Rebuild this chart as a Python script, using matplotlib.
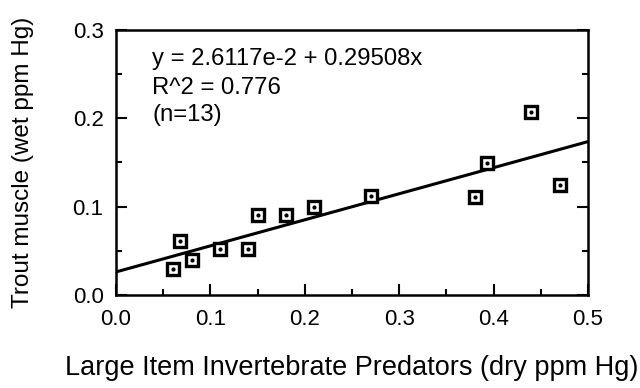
import matplotlib
matplotlib.use('Agg')
import matplotlib.pyplot as plt
from matplotlib.ticker import MultipleLocator

plt.rcParams['font.family'] = ['Liberation Sans', 'DejaVu Sans']

# invertebrate predators (dry ppm Hg) vs trout muscle (wet ppm Hg)
predators = [0.06, 0.068, 0.08, 0.11, 0.14, 0.15, 0.18, 0.21, 0.27, 0.38, 0.393, 0.44, 0.47]
trout = [0.030, 0.061, 0.040, 0.052, 0.052, 0.091, 0.091, 0.100, 0.112, 0.111, 0.150, 0.207, 0.124]
intercept = 2.6117e-2
slope = 0.29508
fit_x = [0.0, 0.5]
xticks = [0.0, 0.1, 0.2, 0.3, 0.4, 0.5]
yticks = [0.0, 0.1, 0.2, 0.3]
notes = ['y = 2.6117e-2 + 0.29508x', 'R^2 = 0.776', '(n=13)']

fig = plt.figure(figsize=(6.4, 3.88), dpi=100)
# axes box in pixels: x 116..588, y 30..295
ax = fig.add_axes([116/640, 1 - 295/388, 472/640, 265/388])

fit_y = [intercept + slope * v for v in fit_x]
ax.plot(fit_x, fit_y, color='black', lw=2.2)
ax.plot(predators, trout, 's', ms=8.5, mfc='white', mec='black', mew=2.4)
ax.plot(predators, trout, 'o', ms=2, color='black')

ax.set_xlim(0, 0.5)
ax.set_ylim(0, 0.3)
ax.set_xticks(xticks)
ax.set_yticks(yticks)
ax.set_xticklabels(['%.1f' % v for v in xticks])
ax.set_yticklabels(['%.1f' % v for v in yticks])
ax.xaxis.set_minor_locator(MultipleLocator(0.05))
ax.yaxis.set_minor_locator(MultipleLocator(0.05))
ax.tick_params(which='both', direction='in', top=False, right=True, labelsize=16, width=1.5)
ax.tick_params(axis='x', which='major', length=8, pad=10)
ax.tick_params(axis='y', which='major', length=8, pad=9)
ax.tick_params(which='minor', length=4.5)
for s in ax.spines.values():
    s.set_linewidth(1.8)

ax.set_xlabel('Large Item Invertebrate Predators (dry ppm Hg)', fontsize=19.5, va='baseline')
ax.xaxis.set_label_coords(0.5, (295 - 375) / 265)
ax.set_ylabel('Trout muscle (wet ppm Hg)', fontsize=17.5, va='top')
ax.yaxis.set_label_coords((12 - 116) / 472, 0.5)

for txt, base in zip(notes, [65, 94, 121]):
    ax.text((152 - 116) / 472, (295 - base) / 265, txt, transform=ax.transAxes,
            fontsize=17.2, va='baseline', ha='left')

fig.savefig('out.png', dpi=100)
